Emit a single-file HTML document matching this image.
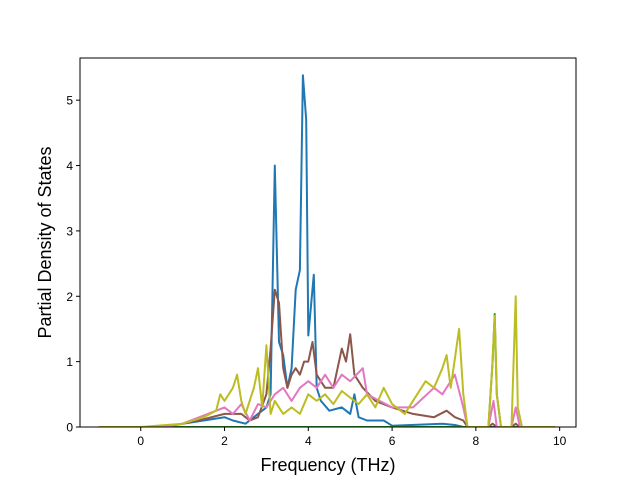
<!DOCTYPE html>
<html><head><meta charset="utf-8"><style>
html,body{margin:0;padding:0;background:#fff;}
svg text{font-family:"Liberation Sans","DejaVu Sans",sans-serif;fill:#000;}
</style></head><body>
<svg id="chart" width="640" height="480" viewBox="0 0 640 480" xmlns="http://www.w3.org/2000/svg">
<rect width="640" height="480" fill="#fff"/>
<g id="plot"></g>
<rect x="80" y="58" width="496" height="369" fill="none" stroke="#000" stroke-width="1"/>
<g id="ticks"></g>
<text x="328" y="471" font-size="18" text-anchor="middle">Frequency (THz)</text>
<text x="0" y="0" font-size="18" text-anchor="middle" transform="translate(51,242.5) rotate(-90)">Partial Density of States</text>
</svg>
<script>
const xTicks=[0,2,4,6,8,10];
const yTicks=[0,1,2,3,4,5];
const blueX=[-1,0.5,1,1.5,2,2.2,2.5,2.8,3,3.1,3.2,3.3,3.4,3.5,3.6,3.7,3.8,3.87,3.95,4.0,4.13,4.2,4.3,4.5,4.8,5.0,5.1,5.2,5.4,5.8,6,7.2,7.5,7.7,9.9];
const blueY=[0,0,0.05,0.1,0.15,0.1,0.05,0.2,0.3,0.5,4.0,1.3,1.1,0.6,0.9,2.1,2.4,5.38,4.7,1.4,2.33,0.6,0.4,0.25,0.3,0.2,0.5,0.15,0.1,0.1,0.02,0.05,0.03,0,0];
const brownX=[-1,0.5,1,1.5,2.0,2.4,2.6,2.8,3.0,3.1,3.2,3.3,3.4,3.5,3.6,3.7,3.8,3.9,4.0,4.1,4.2,4.4,4.6,4.8,4.9,5.0,5.1,5.3,5.6,6,6.5,7,7.3,7.5,7.7,7.8,8.3,8.4,8.5,8.85,8.95,9.05,9.9];
const brownY=[0,0,0.05,0.12,0.2,0.2,0.1,0.15,0.5,1.2,2.1,1.9,0.9,0.6,0.8,0.9,0.8,1.0,1.0,1.3,0.8,0.6,0.6,1.2,1.0,1.42,0.8,0.6,0.4,0.3,0.2,0.15,0.25,0.15,0.1,0,0,0.05,0,0,0.05,0,0];
const pinkX=[-1,0.5,1,1.6,2,2.2,2.4,2.6,2.8,3.0,3.2,3.4,3.6,3.8,4.0,4.2,4.4,4.6,4.8,5.0,5.3,5.4,5.7,6,6.5,7,7.2,7.5,7.7,7.8,8.3,8.42,8.5,8.85,8.95,9.05,9.9];
const pinkY=[0,0,0.05,0.2,0.3,0.2,0.35,0.1,0.35,0.3,0.5,0.6,0.4,0.6,0.7,0.6,0.8,0.6,0.8,0.7,0.9,0.5,0.4,0.3,0.3,0.6,0.5,0.8,0.3,0,0,0.4,0,0,0.3,0,0];
const greenX=[-1,8.3,8.4,8.45,8.5,8.6,9.9];
const greenY=[0,0,1.0,1.73,0.5,0,0];
const oliveX=[-1,0,1,1.5,1.8,1.9,2.0,2.2,2.3,2.4,2.5,2.7,2.8,2.9,3.0,3.1,3.2,3.4,3.6,3.8,4.0,4.2,4.4,4.6,4.8,5.0,5.2,5.4,5.6,5.8,6,6.3,6.6,6.8,7.0,7.2,7.3,7.4,7.6,7.7,7.8,8.3,8.4,8.45,8.5,8.6,8.85,8.95,9.0,9.1,9.9];
const oliveY=[0,0,0.05,0.15,0.25,0.5,0.4,0.6,0.8,0.4,0.2,0.6,0.9,0.3,1.25,0.2,0.4,0.2,0.3,0.2,0.5,0.4,0.5,0.35,0.55,0.45,0.35,0.5,0.3,0.6,0.35,0.2,0.5,0.7,0.6,0.9,1.1,0.6,1.5,0.5,0,0,1.0,1.7,0.5,0,0,2.0,0.3,0,0];
const X0=80,X1=576,Y0=58,Y1=427,xmin=-1.45,xmax=10.39,ymin=0,ymax=5.645;
const sx=v=>X0+(v-xmin)/(xmax-xmin)*(X1-X0);
const sy=v=>Y1-(v-ymin)/(ymax-ymin)*(Y1-Y0);
const NS='http://www.w3.org/2000/svg';
const plot=document.getElementById('plot'),tk=document.getElementById('ticks');
const clip=document.createElementNS(NS,'clipPath');clip.setAttribute('id','cp');
const cr=document.createElementNS(NS,'rect');cr.setAttribute('x',X0);cr.setAttribute('y',Y0);cr.setAttribute('width',X1-X0);cr.setAttribute('height',Y1-Y0);clip.appendChild(cr);plot.appendChild(clip);
plot.setAttribute('clip-path','url(#cp)');
function line(xs,ys,color,name){
  const p=document.createElementNS(NS,'path');
  
  
  p.setAttribute('d',xs.map((x,i)=>(i?'L':'M')+sx(x).toFixed(1)+' '+sy(ys[i]).toFixed(1)).join(''));
  p.setAttribute('fill','none');p.setAttribute('stroke',color);p.setAttribute('stroke-width','2');p.setAttribute('stroke-linejoin','round');
  plot.appendChild(p);
}
line(blueX,blueY,'#1f77b4','series-blue');
line(greenX,greenY,'#2ca02c','series-green');
line(brownX,brownY,'#8c564b','series-brown');
line(pinkX,pinkY,'#e377c2','series-pink');
line(oliveX,oliveY,'#bcbd22','series-olive');
xTicks.forEach(v=>{
  const l=document.createElementNS(NS,'line');
  
  
  l.setAttribute('x1',sx(v));l.setAttribute('x2',sx(v));l.setAttribute('y1',Y1);l.setAttribute('y2',Y1+4);l.setAttribute('stroke','#000');tk.appendChild(l);
  const t=document.createElementNS(NS,'text');
  
  
  t.setAttribute('x',sx(v));t.setAttribute('y',Y1+18);t.setAttribute('font-size','12');t.setAttribute('text-anchor','middle');t.textContent=v;tk.appendChild(t);
});
yTicks.forEach(v=>{
  const l=document.createElementNS(NS,'line');
  
  
  l.setAttribute('x1',X0-4);l.setAttribute('x2',X0);l.setAttribute('y1',sy(v));l.setAttribute('y2',sy(v));l.setAttribute('stroke','#000');tk.appendChild(l);
  const t=document.createElementNS(NS,'text');
  
  
  t.setAttribute('x',X0-7);t.setAttribute('y',sy(v)+4.5);t.setAttribute('font-size','12');t.setAttribute('text-anchor','end');t.textContent=v;tk.appendChild(t);
});
</script>
</body></html>
